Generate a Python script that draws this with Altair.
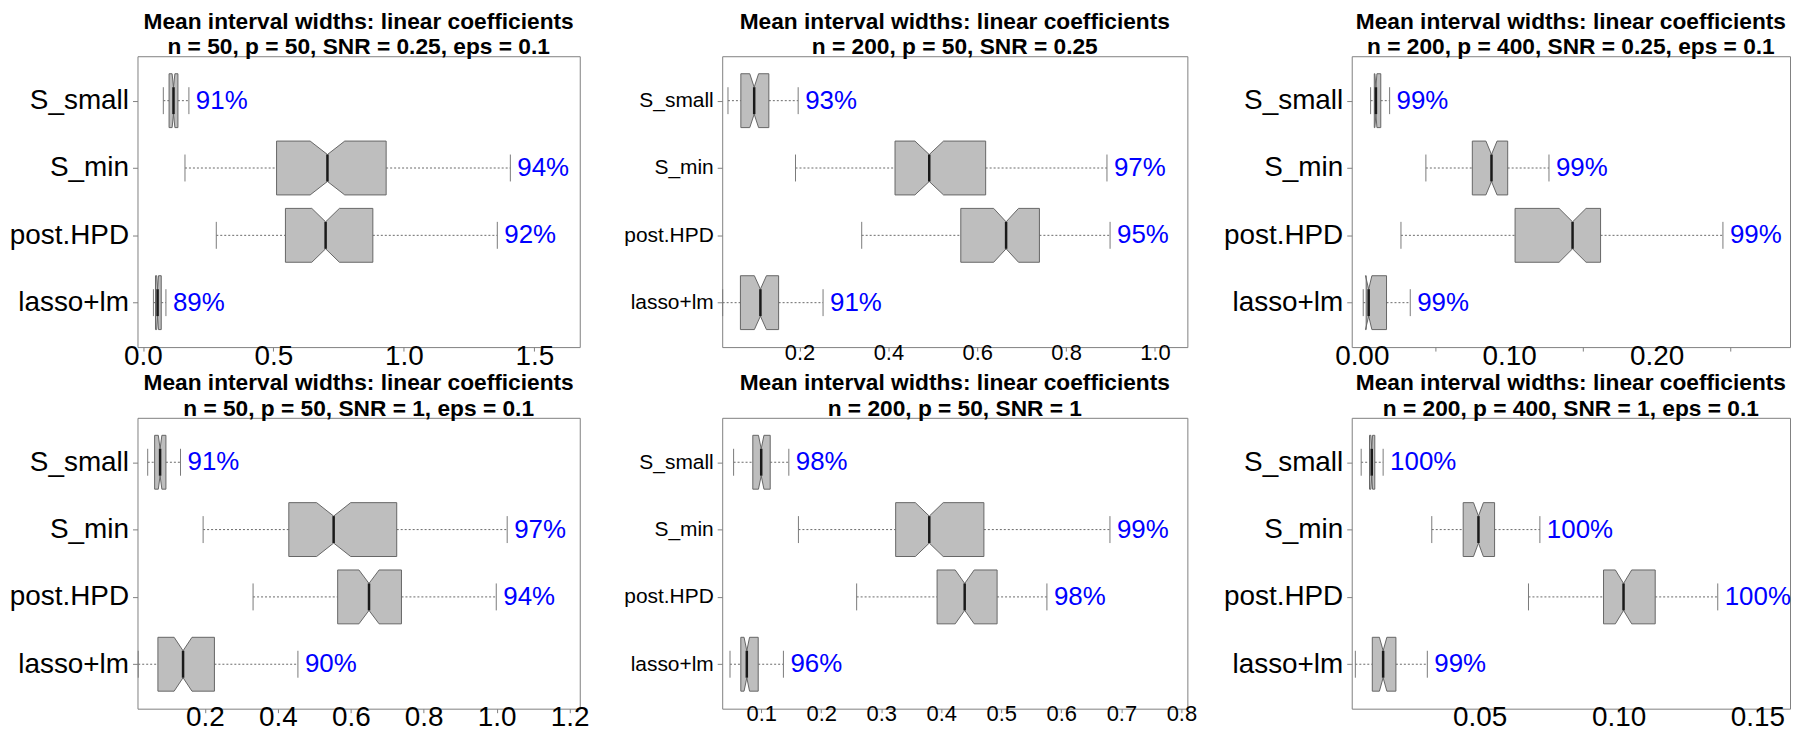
import math
import altair as alt
import pandas as pd

FONT = "Liberation Sans"
METHODS = ["S_small", "S_min", "post.HPD", "lasso+lm"]
SLOTS = [4, 3, 2, 1]          # vertical slot of each method, top to bottom
N_REPS = 100                  # replications behind each box (notch width)

TITLE_TOP = "Mean interval widths: linear coefficients"
SUBTITLES = [
    "n = 50, p = 50, SNR = 0.25, eps = 0.1",
    "n = 200, p = 50, SNR = 0.25",
    "n = 200, p = 400, SNR = 0.25, eps = 0.1",
    "n = 50, p = 50, SNR = 1, eps = 0.1",
    "n = 200, p = 50, SNR = 1",
    "n = 200, p = 400, SNR = 1, eps = 0.1",
]

# ---- panel 1: n=50, p=50, SNR=0.25
WLO_1 = [0.078, 0.161, 0.281, 0.040]
Q1_1 = [0.100, 0.512, 0.546, 0.048]
MED_1 = [0.117, 0.707, 0.700, 0.056]
Q3_1 = [0.134, 0.932, 0.881, 0.070]
WHI_1 = [0.176, 1.408, 1.358, 0.088]
COV_1 = ["91%", "94%", "92%", "89%"]

# ---- panel 2: n=200, p=50, SNR=0.25
WLO_2 = [0.039, 0.191, 0.340, 0.027]
Q1_2 = [0.068, 0.415, 0.563, 0.067]
MED_2 = [0.098, 0.492, 0.665, 0.112]
Q3_2 = [0.131, 0.619, 0.740, 0.153]
WHI_2 = [0.197, 0.892, 0.899, 0.253]
COV_2 = ["93%", "97%", "95%", "91%"]

# ---- panel 3: n=200, p=400, SNR=0.25
WLO_3 = [0.0060, 0.0435, 0.0266, 0.0010]
Q1_3 = [0.0085, 0.0750, 0.1040, 0.0030]
MED_3 = [0.0096, 0.0880, 0.1430, 0.0047]
Q3_3 = [0.0129, 0.0990, 0.1620, 0.0168]
WHI_3 = [0.0189, 0.1270, 0.2450, 0.0329]
COV_3 = ["99%", "99%", "99%", "99%"]

# ---- panel 4: n=50, p=50, SNR=1
WLO_4 = [0.043, 0.195, 0.332, 0.017]
Q1_4 = [0.062, 0.430, 0.564, 0.071]
MED_4 = [0.077, 0.553, 0.650, 0.140]
Q3_4 = [0.093, 0.726, 0.739, 0.226]
WHI_4 = [0.133, 1.029, 0.999, 0.455]
COV_4 = ["91%", "97%", "94%", "90%"]

# ---- panel 5: n=200, p=50, SNR=1
WLO_5 = [0.054, 0.162, 0.259, 0.048]
Q1_5 = [0.086, 0.324, 0.393, 0.066]
MED_5 = [0.100, 0.380, 0.439, 0.076]
Q3_5 = [0.115, 0.471, 0.493, 0.095]
WHI_5 = [0.146, 0.681, 0.576, 0.137]
COV_5 = ["98%", "99%", "98%", "96%"]

# ---- panel 6: n=200, p=400, SNR=1
WLO_6 = [0.0074, 0.0328, 0.0676, 0.0053]
Q1_6 = [0.0104, 0.0441, 0.0946, 0.0114]
MED_6 = [0.0112, 0.0496, 0.1018, 0.0153]
Q3_6 = [0.0123, 0.0554, 0.1132, 0.0199]
WHI_6 = [0.0153, 0.0717, 0.1357, 0.0312]
COV_6 = ["100%", "100%", "100%", "99%"]

# axis ranges and ticks
XDOM = [[-0.021, 1.674], [0.026, 1.073], [-0.0068, 0.2905],
        [0.015, 1.228], [0.035, 0.810], [0.004, 0.1617]]
TICKS = [[0.0, 0.5, 1.0, 1.5],
         [0.2, 0.4, 0.6, 0.8, 1.0],
         [0.0, 0.05, 0.1, 0.15, 0.2, 0.25],
         [0.2, 0.4, 0.6, 0.8, 1.0, 1.2],
         [0.1, 0.2, 0.3, 0.4, 0.5, 0.6, 0.7, 0.8],
         [0.05, 0.1, 0.15]]
LABELED = [None, None, [0.0, 0.1, 0.2], None, None, None]
FMT = [".1f", ".1f", ".2f", ".1f", ".1f", ".2f"]
YDOM = [0.34, 4.66]

# layout / style (not data)
WIDTHS = [444, 467, 440, 444, 467, 440]
HEIGHT = 292
YEXT = [129, 132, 154, 129, 132, 154]
YLAB_FS = [28, 21, 28, 28, 21, 28]
XLAB_FS = [28, 22, 28, 28, 22, 28]

BOX_HALF = 0.4
NOTCH_FRAC = 0.5
STAPLE_HALF = 0.2

STATS = [
    (WLO_1, Q1_1, MED_1, Q3_1, WHI_1, COV_1),
    (WLO_2, Q1_2, MED_2, Q3_2, WHI_2, COV_2),
    (WLO_3, Q1_3, MED_3, Q3_3, WHI_3, COV_3),
    (WLO_4, Q1_4, MED_4, Q3_4, WHI_4, COV_4),
    (WLO_5, Q1_5, MED_5, Q3_5, WHI_5, COV_5),
    (WLO_6, Q1_6, MED_6, Q3_6, WHI_6, COV_6),
]


def make_panel(i):
    wlo, q1, med, q3, whi, cov = STATS[i]
    seg_rows, stat_rows, poly_rows = [], [], []
    for m, s, a, b, c, d, e, t in zip(METHODS, SLOTS, wlo, q1, med, q3, whi, cov):
        half = 1.58 * (d - b) / math.sqrt(N_REPS)
        nlo, nhi = c - half, c + half
        seg_rows.append({"m": m, "x": a, "x2": b, "y": s})
        seg_rows.append({"m": m, "x": d, "x2": e, "y": s})
        stat_rows.append({"m": m, "y": s, "ylo": s - STAPLE_HALF, "yhi": s + STAPLE_HALF,
                          "mlo": s - BOX_HALF * NOTCH_FRAC, "mhi": s + BOX_HALF * NOTCH_FRAC,
                          "wlo": a, "whi": e, "med": c, "cov": t})
        w = BOX_HALF
        nf = NOTCH_FRAC
        pts = [(b, -w), (b, w), (nlo, w), (c, w * nf), (nhi, w), (d, w),
               (d, -w), (nhi, -w), (c, -w * nf), (nlo, -w)]
        for k, (px, off) in enumerate(pts):
            poly_rows.append({"m": m, "k": k, "x": px, "y": s + off})
    seg = pd.DataFrame(seg_rows)
    st = pd.DataFrame(stat_rows)
    poly = pd.DataFrame(poly_rows)

    xscale = alt.Scale(domain=XDOM[i], nice=False, zero=False)
    yscale = alt.Scale(domain=YDOM, nice=False, zero=False)

    if LABELED[i] is None:
        xlabel_expr = f"format(datum.value, '{FMT[i]}')"
    else:
        xlabel_expr = f"indexof({LABELED[i]}, datum.value) >= 0 ? format(datum.value, '{FMT[i]}') : ''"
    xaxis = alt.Axis(values=TICKS[i], labelExpr=xlabel_expr, title=None, grid=False,
                     domain=False, ticks=True, tickSize=4, tickColor="#808080",
                     labelFlush=False, labelOverlap=False, labelPadding=-9,
                     labelFont=FONT, labelFontSize=XLAB_FS[i], labelColor="black")
    ylabel_expr = " : ".join(f"datum.value == {s} ? '{m}'" for m, s in zip(METHODS[:-1], SLOTS[:-1]))
    ylabel_expr += f" : '{METHODS[-1]}'"
    yaxis = alt.Axis(values=SLOTS, labelExpr=ylabel_expr, title=None, grid=False,
                     domain=False, ticks=True, tickSize=5, tickColor="#808080",
                     labelPadding=4, labelFont=FONT, labelFontSize=YLAB_FS[i],
                     labelColor="black", minExtent=YEXT[i], maxExtent=YEXT[i])

    whisk = alt.Chart(seg).mark_rule(color="#6a6a6a", strokeWidth=1, strokeDash=[2, 2]).encode(
        x=alt.X("x:Q", scale=xscale, axis=xaxis), x2="x2:Q",
        y=alt.Y("y:Q", scale=yscale, axis=yaxis))
    staple_lo = alt.Chart(st).mark_rule(color="#7a7a7a", strokeWidth=1).encode(
        x=alt.X("wlo:Q", scale=xscale, axis=xaxis),
        y=alt.Y("ylo:Q", scale=yscale, axis=yaxis), y2="yhi:Q")
    staple_hi = alt.Chart(st).mark_rule(color="#7a7a7a", strokeWidth=1).encode(
        x=alt.X("whi:Q", scale=xscale, axis=xaxis),
        y=alt.Y("ylo:Q", scale=yscale, axis=yaxis), y2="yhi:Q")
    box = alt.Chart(poly).mark_line(interpolate="linear-closed", fill="#BEBEBE",
                                    stroke="#666666", strokeWidth=1).encode(
        x=alt.X("x:Q", scale=xscale, axis=xaxis),
        y=alt.Y("y:Q", scale=yscale, axis=yaxis),
        detail="m:N", order="k:Q")
    median = alt.Chart(st).mark_rule(color="#1a1a1a", strokeWidth=2.5).encode(
        x=alt.X("med:Q", scale=xscale, axis=xaxis),
        y=alt.Y("mlo:Q", scale=yscale, axis=yaxis), y2="mhi:Q")
    text = alt.Chart(st).mark_text(align="left", baseline="middle", dx=7, fontSize=26,
                                   font=FONT, color="#0000FF").encode(
        x=alt.X("whi:Q", scale=xscale, axis=xaxis),
        y=alt.Y("y:Q", scale=yscale, axis=yaxis), text="cov:N")

    return alt.layer(whisk, staple_lo, staple_hi, box, median, text).properties(
        width=WIDTHS[i], height=HEIGHT,
        title=alt.TitleParams(text=[TITLE_TOP, SUBTITLES[i]], font=FONT, fontSize=22.8,
                              fontWeight="bold", color="black", anchor="middle",
                              offset=-3, lineHeight=26))


panels = [make_panel(i) for i in range(6)]
chart = alt.concat(*panels, columns=3, spacing={"row": 0, "column": 0}, align="each").properties(
    padding=0, background="white"
).configure_view(stroke="#808080", strokeWidth=1)

chart.save("out.html", embed_options={"renderer": "svg", "actions": False})
